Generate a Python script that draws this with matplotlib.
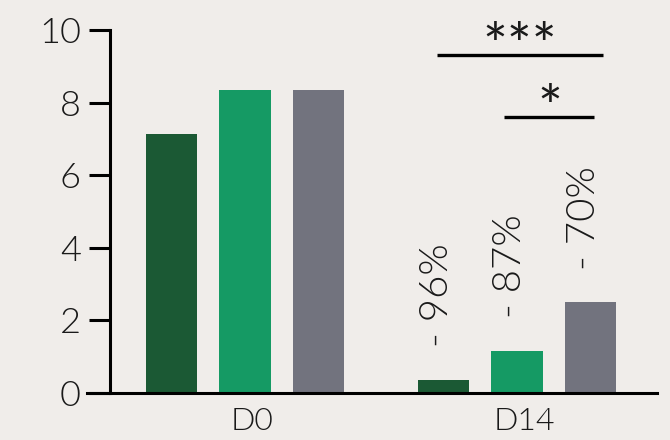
import numpy as np
import matplotlib.pyplot as plt
from matplotlib.transforms import ScaledTranslation

groups = ["D0", "D14"]
series_colors = ["#1b5934", "#159a64", "#72737e"]
values = [
    [7.13, 0.36],   # dark green
    [8.35, 1.16],   # green
    [8.35, 2.50],   # grey
]
pct_labels = ["- 96%", "- 87%", "- 70%"]
y_ticks = [0, 2, 4, 6, 8, 10]

# significance bars: (x start, x end, y, label)
sig_x = [(0.706, 1.316), (0.954, 1.285)]
sig_y = [9.3, 7.6]
sig_text = ["***", "*"]

bg = "#f0edea"
txt = "#1a1a1a"
plt.rcParams['font.family'] = ['Lato', 'DejaVu Sans']
plt.rcParams['font.weight'] = 300

fig = plt.figure(figsize=(6.7, 4.4), dpi=100, facecolor=bg)
ax = fig.add_axes([0.1642, 0.1068, 0.8164, 0.825])
ax.set_facecolor(bg)

x = np.arange(len(groups))
offs = [-0.27, 0, 0.27]
w = 0.19
for i in range(3):
    ax.bar(x + offs[i], values[i], width=w, color=series_colors[i], zorder=2)

# percentage labels above the D14 bars
for i in range(3):
    ax.text(x[1] + offs[i] - 0.025, values[i][1] + 0.9, pct_labels[i], rotation=90,
            ha='center', va='bottom', fontsize=29, weight=300, color=txt)

for (x0, x1), yy, t in zip(sig_x, sig_y, sig_text):
    ax.plot([x0, x1], [yy, yy], color='black', lw=2.4, solid_capstyle='butt')
    ax.text((x0 + x1) / 2, yy - 0.55, t, ha='center', va='bottom', fontsize=42,
            weight=400, color=txt)

ax.set_xlim(-0.496, 1.515)
ax.set_ylim(0, 10)
ax.set_xticks(x)
ax.set_xticklabels(groups)
ax.set_yticks(y_ticks)
for s in ['top', 'right']:
    ax.spines[s].set_visible(False)
for s in ['left', 'bottom']:
    ax.spines[s].set_linewidth(2.2)
ax.spines['bottom'].set_bounds(-0.58, 1.515)
ax.spines['bottom'].set_position(('data', 0))
ax.tick_params(axis='y', length=15, width=2.2, pad=6, labelsize=26, labelcolor=txt)
ax.tick_params(axis='x', length=0, pad=10, labelsize=23, labelcolor=txt)
ax.spines['bottom'].set_clip_on(False)
shift = ScaledTranslation(7 / 100, 0, fig.dpi_scale_trans)
for lab in ax.get_yticklabels() + ax.get_xticklabels():
    lab.set_fontweight(300)
for lab in ax.get_xticklabels():
    lab.set_transform(lab.get_transform() + shift)

fig.savefig("out.png", dpi=100, facecolor=bg)
